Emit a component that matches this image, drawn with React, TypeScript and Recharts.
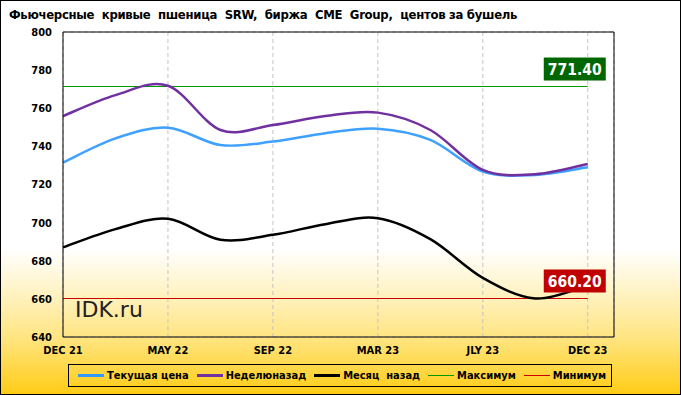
import React from 'react';
import { LineChart, Line, XAxis, YAxis, CartesianGrid, ReferenceLine, ReferenceDot } from 'recharts';

const months = ['DEC 21', 'MAR 22', 'MAY 22', 'JLY 22', 'SEP 22', 'DEC 22', 'MAR 23', 'MAY 23', 'JLY 23', 'SEP 23', 'DEC 23'];
const shownTicks = [0, 2, 4, 6, 8, 10];
const yTicks = [640, 660, 680, 700, 720, 740, 760, 780, 800];

const current = [731.5, 744.2, 749.8, 740.7, 742.5, 746.9, 749.3, 743.4, 726.8, 725.0, 729.0];
const weekAgo = [755.9, 766.9, 771.8, 748.6, 751.2, 755.9, 757.7, 748.6, 727.7, 725.4, 730.8];
const monthAgo = [687.0, 696.6, 702.0, 691.0, 693.6, 699.2, 702.3, 691.3, 671.0, 660.2, 667.0];
const maxValue = 771.4;
const minValue = 660.2;

const legendItems = [
  { name: 'Текущая цена', color: '#3399ff', width: 3 },
  { name: 'Неделюназад', color: '#7030a0', width: 3 },
  { name: 'Месяц  назад', color: '#000000', width: 3 },
  { name: 'Максимум', color: '#009900', width: 1 },
  { name: 'Минимум', color: '#cc0000', width: 1 },
];

const data = months.map((m, i) => ({
  x: i,
  label: m,
  current: current[i],
  weekAgo: weekAgo[i],
  monthAgo: monthAgo[i],
}));

const FONT = '"DejaVu Sans Condensed", "DejaVu Sans", sans-serif';

// excel-like smoothing (cardinal spline, tension 0)
function smoothCurve(context: any) {
  let pts: number[][] = [];
  return {
    areaStart() {},
    areaEnd() {},
    lineStart() {
      pts = [];
    },
    point(x: number, y: number) {
      pts.push([+x, +y]);
    },
    lineEnd() {
      if (!pts.length) return;
      context.moveTo(pts[0][0], pts[0][1]);
      for (let i = 0; i < pts.length - 1; i++) {
        const p0 = pts[i - 1] || pts[i];
        const p1 = pts[i];
        const p2 = pts[i + 1];
        const p3 = pts[i + 2] || p2;
        context.bezierCurveTo(
          p1[0] + (p2[0] - p0[0]) / 6,
          p1[1] + (p2[1] - p0[1]) / 6,
          p2[0] - (p3[0] - p1[0]) / 6,
          p2[1] - (p3[1] - p1[1]) / 6,
          p2[0],
          p2[1]
        );
      }
    },
  };
}

function valueBox(fill: string, text: string) {
  return (props: any) => {
    const { cx, cy } = props;
    return (
      <g>
        <rect x={cx - 44} y={cy - 29} width={62} height={23} fill={fill} />
        <text
          x={cx - 13}
          y={cy - 11.5}
          textAnchor="middle"
          fill="#fff"
          fontFamily={FONT}
          fontWeight="bold"
          fontSize={15.5}
        >
          {text}
        </text>
      </g>
    );
  };
}

export default function App() {
  return (
    <div
      style={{
        position: 'absolute',
        left: 0,
        top: 0,
        width: 681,
        height: 395,
        background: 'linear-gradient(to bottom, #ffffff 0%, #ffffff 63%, #fff3c4 74%, #ffe47e 86%, #ffcc14 100%)',
        fontFamily: FONT,
      }}
    >
      <div
        style={{
          position: 'absolute',
          left: 9,
          top: 7,
          fontSize: 13,
          letterSpacing: -0.3,
          fontWeight: 'bold',
          whiteSpace: 'pre',
          color: '#000',
        }}
      >
        {'Фьючерсные  кривые  пшеница  SRW,  биржа  CME  Group,  центов за бушель'}
      </div>
      <LineChart width={681} height={395} data={data} margin={{ top: 32, right: 0, left: 0, bottom: 38 }}>
        <CartesianGrid stroke="#c4c4c4" strokeDasharray="4 3" />
        <XAxis
          dataKey="x"
          type="number"
          domain={[0, 10.5]}
          ticks={shownTicks}
          tickFormatter={(v) => months[v]}
          height={20}
          tickLine={false}
          tickMargin={3}
          axisLine={{ stroke: '#000' }}
          tick={{ fill: '#000', fontSize: 11, fontWeight: 'bold', fontFamily: FONT }}
          interval={0}
        />
        <YAxis
          yAxisId="left"
          domain={[640, 800]}
          ticks={yTicks}
          width={63}
          tickLine={false}
          tickMargin={5}
          axisLine={{ stroke: '#000' }}
          tick={{ fill: '#000', fontSize: 11, fontWeight: 'bold', fontFamily: FONT }}
          interval={0}
        />
        <YAxis
          yAxisId="right"
          orientation="right"
          domain={[640, 800]}
          ticks={yTicks}
          width={67}
          tickLine={false}
          tickMargin={5}
          axisLine={{ stroke: '#000' }}
          tick={{ fill: '#000', fontSize: 11, fontWeight: 'bold', fontFamily: FONT }}
          interval={0}
        />
        <ReferenceLine yAxisId="left" y={800} stroke="#000" />
        <ReferenceLine
          yAxisId="left"
          segment={[{ x: 0, y: maxValue }, { x: 10, y: maxValue }]}
          stroke="#009900"
          strokeWidth={1.2}
        />
        <ReferenceLine
          yAxisId="left"
          segment={[{ x: 0, y: minValue }, { x: 10, y: minValue }]}
          stroke="#cc0000"
          strokeWidth={1.2}
        />
        <Line yAxisId="left" type={smoothCurve as any} dataKey="current" stroke="#3ea0ff" strokeWidth={2.5} dot={false} isAnimationActive={false} />
        <Line yAxisId="left" type={smoothCurve as any} dataKey="weekAgo" stroke="#7030a0" strokeWidth={2.5} dot={false} isAnimationActive={false} />
        <Line yAxisId="left" type={smoothCurve as any} dataKey="monthAgo" stroke="#000" strokeWidth={2.5} dot={false} isAnimationActive={false} />
        <ReferenceDot yAxisId="left" x={10} y={maxValue} shape={valueBox('#006600', maxValue.toFixed(2))} />
        <ReferenceDot yAxisId="left" x={10} y={minValue} shape={valueBox('#c00000', minValue.toFixed(2))} />
        <text x={75} y={317} fontSize={22} fill="#222" fontFamily='"DejaVu Sans", sans-serif'>
          IDK.ru
        </text>
      </LineChart>
      <div
        style={{
          position: 'absolute',
          left: 68,
          top: 364,
          width: 544,
          height: 23,
          boxSizing: 'border-box',
          border: '1px solid #000',
          display: 'flex',
          alignItems: 'center',
          paddingLeft: 9,
          fontSize: 11,
          fontWeight: 'bold',
          whiteSpace: 'pre',
        }}
      >
        {legendItems.map((it) => (
          <div key={it.name} style={{ display: 'flex', alignItems: 'center', marginRight: 8 }}>
            <div style={{ width: 26, height: it.width, background: it.color }} />
            <span style={{ marginLeft: 3 }}>{it.name}</span>
          </div>
        ))}
      </div>
      <div
        style={{
          position: 'absolute',
          left: 0,
          top: 0,
          width: 681,
          height: 395,
          boxSizing: 'border-box',
          border: '1px solid #000',
          pointerEvents: 'none',
        }}
      />
    </div>
  );
}
